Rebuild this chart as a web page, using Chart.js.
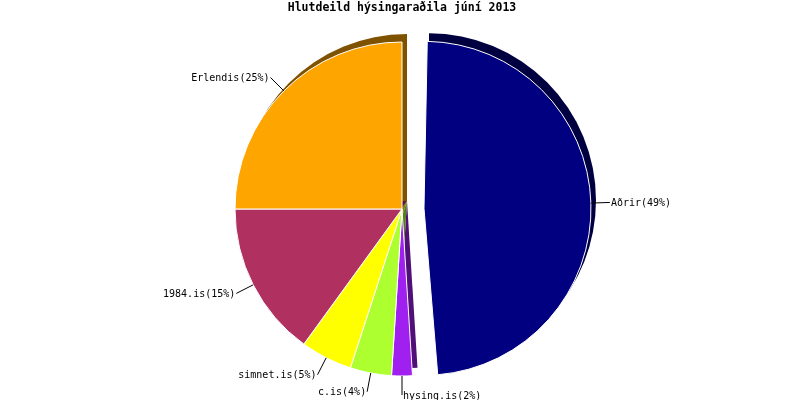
<!DOCTYPE html>
<html>
<head>
<meta charset="utf-8">
<script src="https://cdn.jsdelivr.net/npm/chart.js@4"></script>
<style>
  html, body { margin: 0; padding: 0; background: #fff; }
  #wrap { width: 800px; height: 400px; }
</style>
</head>
<body>
<div id="wrap"><canvas id="pieChart" width="800" height="400"></canvas></div>
<script>
// Gögn
const labels = ['Aðrir', 'hysing.is', 'c.is', 'simnet.is', '1984.is', 'Erlendis'];
const shares = [49, 2, 4, 5, 15, 25];
const colors = ['#000080', '#A020F0', '#ADFF2F', '#FFFF00', '#B03060', '#FFA500'];
// Chart.js deilir offset með 4 þegar sneiðin er teiknuð
const explode = [88, 0, 0, 0, 0, 0];

// dekkri litur fyrir skuggann
function darker(hex) {
    const n = parseInt(hex.slice(1), 16);
    const r = (n >> 16) & 255, g = (n >> 8) & 255, b = n & 255;
    return 'rgb(' + (r >> 1) + ',' + (g >> 1) + ',' + (b >> 1) + ')';
}

// miðja sneiðar að teknu tilliti til útdráttar
function sliceCenter(chart, el) {
    const p = el.getProps(['x', 'y', 'startAngle', 'endAngle'], true);
    const mid = (p.startAngle + p.endAngle) / 2;
    const off = (el.options.offset || 0) / 4;
    return {
        cx: p.x + Math.cos(mid) * off,
        cy: p.y + Math.sin(mid) * off,
        mid: mid,
        r: chart.getDatasetMeta(0).controller.outerRadius,
        start: p.startAngle, end: p.endAngle
    };
}

// Chart.js stækkar útdregna sneið, minnkum hana aftur í sama radíus
const keepRadius = {
    id: 'keepRadius',
    afterDatasetUpdate(chart, args) {
        const meta = args.meta;
        meta.data.forEach(function(el, i) {
            if (!explode[i]) return;
            const off = explode[i] / 4;
            const circ = el.endAngle - el.startAngle;
            const fix = 1 - Math.sin(Math.min(Math.PI, circ));
            el.outerRadius = meta.controller.outerRadius - off * fix;
        });
    }
};

// Skuggi á bak við sneiðarnar
const shadowPlugin = {
    id: 'shadow',
    beforeDatasetsDraw(chart) {
        const ctx = chart.ctx;
        const meta = chart.getDatasetMeta(0);
        meta.data.forEach(function(el, i) {
            const s = sliceCenter(chart, el);
            const cx = s.cx + 5, cy = s.cy - 8;
            ctx.save();
            ctx.beginPath();
            ctx.moveTo(cx, cy);
            ctx.arc(cx, cy, s.r, s.start, s.end);
            ctx.closePath();
            ctx.fillStyle = darker(colors[i]);
            ctx.fill();
            ctx.restore();
        });
    }
};

// Merkingar utan við kökuna
const labelPlugin = {
    id: 'outLabels',
    afterDatasetsDraw(chart) {
        const ctx = chart.ctx;
        const meta = chart.getDatasetMeta(0);
        const total = shares.reduce((a, b) => a + b, 0);
        ctx.save();
        ctx.font = '10px "DejaVu Sans Mono", monospace';
        ctx.fillStyle = '#000';
        ctx.strokeStyle = '#000';
        ctx.lineWidth = 1;
        ctx.textBaseline = 'middle';
        meta.data.forEach(function(el, i) {
            const s = sliceCenter(chart, el);
            const cos = Math.cos(s.mid), sin = Math.sin(s.mid);
            const x1 = s.cx + cos * s.r, y1 = s.cy + sin * s.r;
            const x2 = s.cx + cos * (s.r + 19), y2 = s.cy + sin * (s.r + 19);
            ctx.beginPath();
            ctx.moveTo(x1, y1);
            ctx.lineTo(x2, y2);
            ctx.stroke();
            const pct = Math.round(shares[i] / total * 100);
            const txt = labels[i] + '(' + pct + '%)';
            if (cos >= -0.01) {
                ctx.textAlign = 'left';
                ctx.fillText(txt, x2 + 1, y2 + 1);
            } else {
                ctx.textAlign = 'right';
                ctx.fillText(txt, x2 - 1, y2 + 1);
            }
        });
        ctx.restore();
    }
};

const ctx = document.getElementById('pieChart').getContext('2d');
const pieChart = new Chart(ctx, {
    type: 'pie',
    data: {
        labels: labels,
        datasets: [{
            data: shares,
            backgroundColor: colors,
            borderColor: '#ffffff',
            borderWidth: 1,
            offset: explode
        }]
    },
    options: {
        responsive: false,
        animation: false,
        events: [],
        radius: 167,
        layout: { padding: { left: 4, right: 0, top: 0, bottom: 2.8 } },
        plugins: {
            legend: { display: false },
            tooltip: { enabled: false },
            title: {
                display: true,
                text: 'Hlutdeild hýsingaraðila júní 2013',
                color: '#000',
                font: { family: '"DejaVu Sans Mono", monospace', size: 11.5, weight: 'bold' },
                padding: { top: 1, bottom: 6 }
            }
        }
    },
    plugins: [keepRadius, shadowPlugin, labelPlugin]
});
</script>
</body>
</html>
